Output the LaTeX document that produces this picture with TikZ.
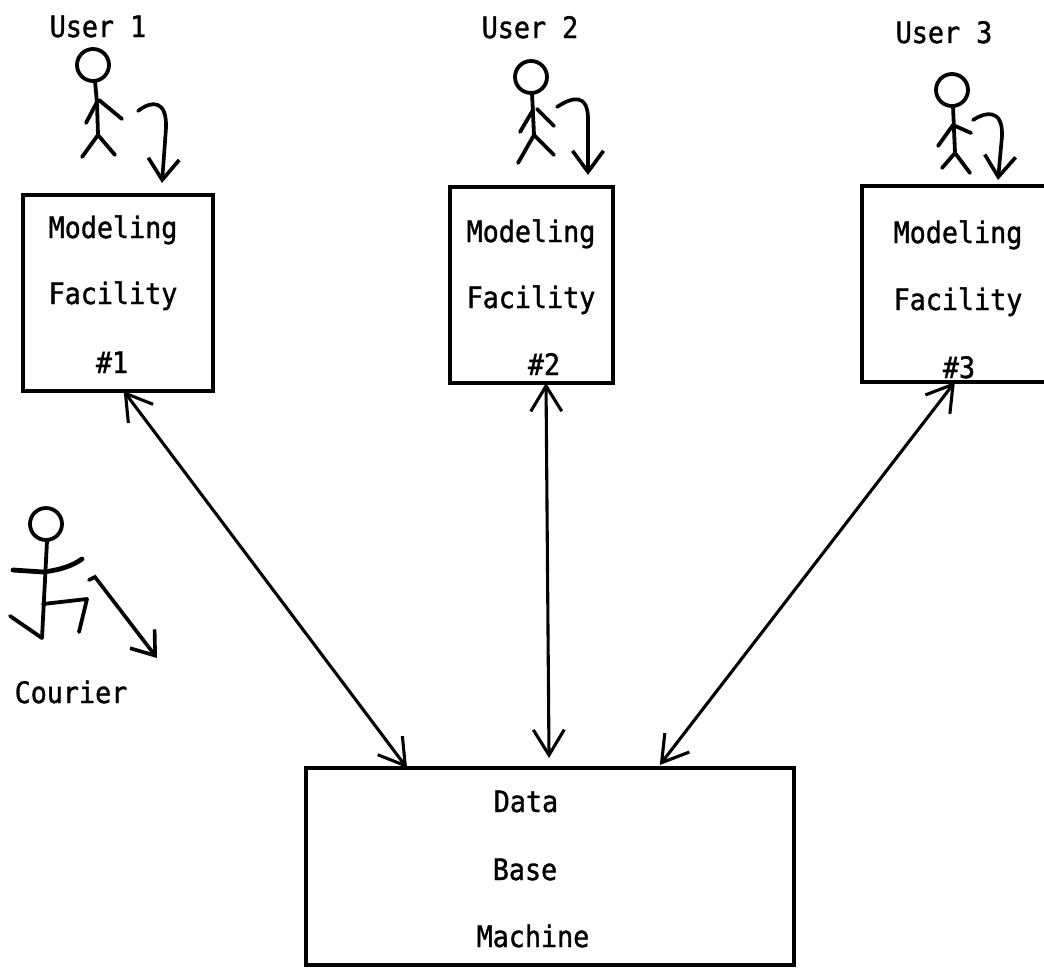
\documentclass[tikz,border=0pt]{standalone}
\usepackage{fontspec}
\newfontfamily\typ{DejaVu Sans Mono}[FakeStretch=0.905, FakeBold=1.2]
\usetikzlibrary{arrows.meta,calc,fit}
\begin{document}
\begin{tikzpicture}[x=0.025cm,y=-0.025cm,
  lbl/.style={font=\typ\fontsize{21}{24}\selectfont, anchor=base, inner sep=0pt},
  box/.style={draw, line width=2.6pt, inner sep=0pt, outer sep=0pt},
  link/.style={line width=2.2pt, line cap=round,
    {Straight Barb[length=18pt,width=22pt]}-{Straight Barb[length=18pt,width=22pt]}},
  hop/.style={line width=2.6pt, line cap=round, -{Straight Barb[length=15pt,width=22pt]}},
  stick/.style={line width=2.7pt, line cap=round, line join=round}]
\useasboundingbox (0,0) rectangle (1044,967);
\clip (0,0) rectangle (1044,967);
\fill[white] (0,0) rectangle (1044,967);

% modeling facilities and the data base machine
\node[box, fit={(23,195) (213,391)}] (mf1) {};
\node[box, fit={(450,187) (613,383)}] (mf2) {};
\node[box, fit={(862,186) (1060,382)}] (mf3) {};
\node[box, fit={(306,768) (794,965)}] (db) {};

% user labels
\node[lbl] (u1) at (98,37) {User 1};
\node[lbl] (u2) at (530,38) {User 2};
\node[lbl] (u3) at (944,43) {User 3};

% box texts
\node[lbl] (mf1a) at (113,238) {Modeling};
\node[lbl] (mf1b) at (113,304) {Facility};
\node[lbl] (mf1c) at (112,373) {\#1};
\node[lbl] (mf2a) at (531,242) {Modeling};
\node[lbl] (mf2b) at (531,308) {Facility};
\node[lbl] (mf2c) at (544,375) {\#2};
\node[lbl] (mf3a) at (958,243) {Modeling};
\node[lbl] (mf3b) at (958,310) {Facility};
\node[lbl] (mf3c) at (959,378) {\#3};
\node[lbl] (dba) at (526,812) {Data};
\node[lbl] (dbb) at (525,880) {Base};
\node[lbl] (dbc) at (533,947) {Machine};
\node[lbl] (cour) at (71,703) {Courier};

% two-way links between each facility and the data base machine
\draw[link] ($(mf1.south west)!0.53!(mf1.south east)$) -- ($(db.north west)!0.207!(db.north east)$);
\draw[link] ($(mf2.south west)!0.589!(mf2.south east)$) -- ($(db.north west)!0.498!(db.north east)+(0,-10)$);
\draw[link] ($(mf3.south west)!0.469!(mf3.south east)$) -- ($(db.north west)!0.725!(db.north east)+(0,-3)$);

% user 1
\draw[stick] (93,65) circle[radius=16];
\draw[stick] (95,81) -- (97,103) -- (98,135);
\draw[stick] (86,123) -- (97,102);
\draw[stick] (99,100) -- (122,119);
\draw[stick] (82,157) -- (98,135) -- (115,155);
\coordinate (h1) at (138,111);
\coordinate (t1) at (162,183);
\draw[hop] (h1) .. controls (152,100) and (167,100) .. (166,128) -- (t1);

% user 2
\draw[stick] (531,77) circle[radius=16];
\draw[stick] (532,93) -- (534,135);
\draw[stick] (520,132) -- (533,110);
\draw[stick] (537,109) -- (554,126);
\draw[stick] (518,163) -- (534,135) -- (554,155);
\coordinate (h2) at (557,107);
\coordinate (t2) at (588,175);
\draw[hop] (h2) .. controls (572,97) and (589,92) .. (588,122) -- (t2);

% user 3
\draw[stick] (952,90) circle[radius=16];
\draw[stick] (953,106) -- (955,153);
\draw[stick] (938,146) -- (953,125) -- (971,133);
\draw[stick] (942,168) -- (955,153) -- (970,173);
\coordinate (h3) at (973,120);
\coordinate (t3) at (998,180);
\draw[hop] (h3) .. controls (985,112) and (1003,108) .. (1002,136) -- (t3);

% courier on the run
\draw[stick] (46,524) circle[radius=16];
\draw[stick] (47,541) -- (42,638);
\draw[stick, line width=3.4pt] (13,570) -- (43,572) .. controls (60,570) and (72,566) .. (82,559);
\draw[stick] (43,604) -- (87,599) -- (79,632);
\draw[stick] (42,638) -- (10,616);
\coordinate (c0) at (89,580);
\coordinate (c1) at (157,658);
\draw[hop] (c0) -- (95,577) -- (c1);
\end{tikzpicture}
\end{document}
